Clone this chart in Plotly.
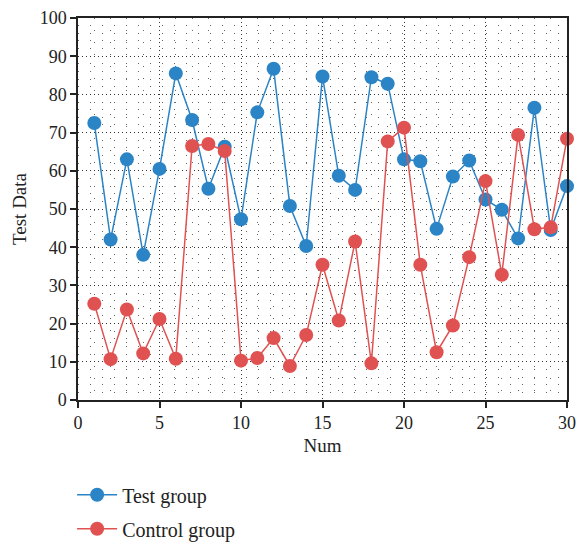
import plotly.graph_objects as go

num = list(range(1, 31))
test_group = [72.5, 42, 63, 38, 60.5, 85.5, 73.3, 55.3, 66.3, 47.3,
              75.3, 86.7, 50.8, 40.3, 84.7, 58.7, 55, 84.5, 82.8, 63,
              62.5, 44.8, 58.5, 62.7, 52.5, 49.8, 42.3, 76.5, 44.5, 56]
control_group = [25.2, 10.7, 23.7, 12.2, 21.2, 10.8, 66.5, 67, 65.2, 10.3,
                 11, 16.2, 8.9, 17, 35.4, 20.8, 41.5, 9.6, 67.7, 71.3,
                 35.4, 12.5, 19.5, 37.4, 57.3, 32.8, 69.4, 44.7, 45.2, 68.4]

blue = "#2b84c6"
red = "#e05252"
font = "Liberation Serif, Times New Roman, serif"

fig = go.Figure()
fig.add_trace(go.Scatter(x=num, y=test_group, mode="lines+markers", name="Test group",
                         legendgroup="a",
                         line=dict(color=blue, width=1.5),
                         marker=dict(color=blue, size=14), cliponaxis=False))
fig.add_trace(go.Scatter(x=num, y=control_group, mode="lines+markers", name="Control group",
                         legendgroup="b",
                         line=dict(color=red, width=1.5),
                         marker=dict(color=red, size=14), cliponaxis=False))

axis_common = dict(showline=True, linecolor="#222", linewidth=1.5, mirror=True,
                   ticks="outside", ticklen=6, tickcolor="#222", tickwidth=1.5,
                   zeroline=False, showgrid=True, gridcolor="#333", gridwidth=1,
                   griddash="1px,3px", automargin=False,
                   tickfont=dict(family=font, size=18, color="#222"))

fig.update_xaxes(range=[0, 30], tickvals=[0, 5, 10, 15, 20, 25, 30], **axis_common,
                 minor=dict(dtick=1, showgrid=True, gridcolor="#666", gridwidth=1, griddash="1px,11px"),
                 title=dict(text="Num", font=dict(family=font, size=19, color="#222"), standoff=6))
fig.update_yaxes(range=[0, 100], dtick=10, **axis_common,
                 minor=dict(dtick=2, showgrid=True, gridcolor="#666", gridwidth=1, griddash="1px,11px"),
                 title=dict(text="Test Data", font=dict(family=font, size=19, color="#222"), standoff=8))

fig.update_layout(
    width=581, height=543,
    margin=dict(l=78, r=14, t=18, b=143, autoexpand=False),
    plot_bgcolor="white", paper_bgcolor="white",
    showlegend=True,
    legend=dict(x=-0.012, y=-0.197, xanchor="left", yanchor="top", orientation="v",
                font=dict(family=font, size=20, color="#222"),
                itemwidth=40, tracegroupgap=5),
)

fig.write_html("out.html", config={"displayModeBar": False},
               post_script="document.body.style.margin='0';document.body.style.overflow='hidden';")
